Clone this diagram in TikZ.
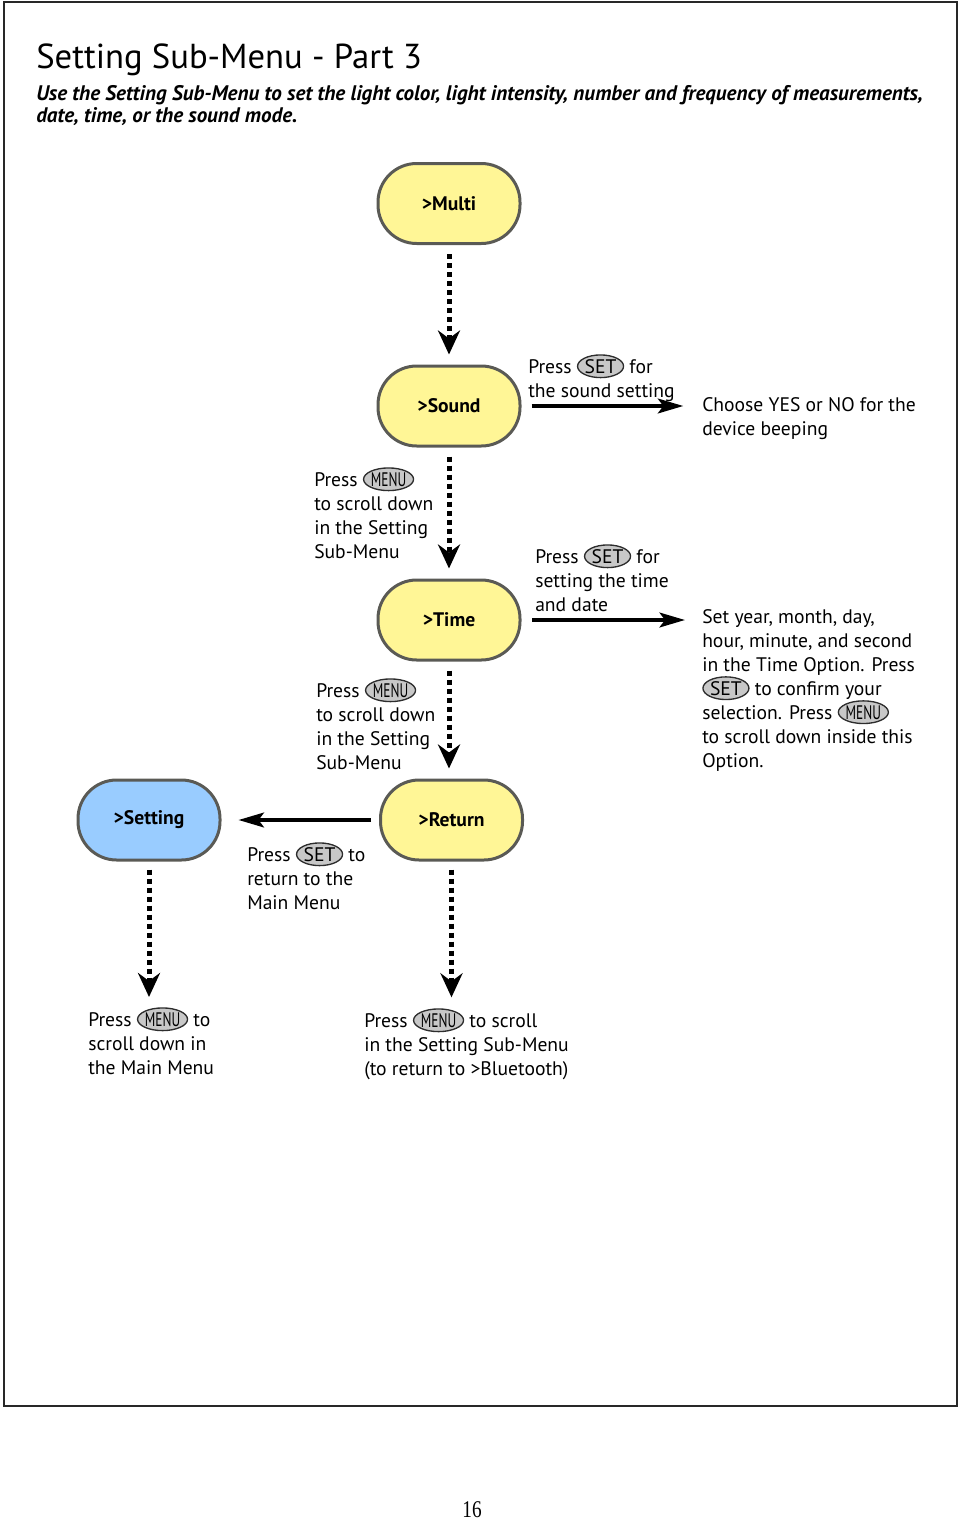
\documentclass[tikz,border=0pt]{standalone}
\usepackage{graphicx}
\usepackage{fontspec}
\setmainfont{PT Sans}
\newfontfamily\numfont{Liberation Serif}
\usetikzlibrary{arrows.meta,shapes.geometric}
\definecolor{boxyellow}{RGB}{255,246,150}
\definecolor{boxblue}{RGB}{153,204,255}
\definecolor{boxedge}{RGB}{90,90,85}
\definecolor{btnfill}{RGB}{200,200,200}
\definecolor{btnedge}{RGB}{45,45,45}
\definecolor{framecol}{RGB}{40,40,40}
\newcommand{\bodyfont}{\fontsize{14.7}{18}\selectfont}
\newcommand{\btnset}{\tikz[baseline=(bt.base)]\node[btnshape](bt){SET};}
\newcommand{\btnmenu}{\tikz[baseline=(bt.base)]\node[btnshape](bt){\scalebox{0.68}[1]{MENU}};}
\tikzset{
  menubox/.style={draw=boxedge, line width=2.25pt, rounded corners=29pt,
    minimum width=106.5pt, minimum height=60pt, font=\bodyfont\bfseries, inner sep=0pt},
  yellowbox/.style={menubox, fill=boxyellow},
  bluebox/.style={menubox, fill=boxblue},
  btnshape/.style={ellipse, draw=btnedge, fill=btnfill, line width=1pt,
    minimum width=34.5pt, minimum height=17pt, inner sep=0pt, outer sep=0pt,
    anchor=center, font=\bodyfont, text=black},
  note/.style={anchor=north west, inner sep=0pt, align=left, font=\bodyfont},
  solidarrow/.style={line width=3pt, -{Stealth[length=19pt, width=11pt, inset=4pt]}},
  dotarrow/.style={line width=3.75pt, dash pattern=on 3.75pt off 3pt,
    -{Stealth[length=18pt, width=16.5pt, inset=6pt]}}
}
\begin{document}
\begin{tikzpicture}[x=0.75pt,y=-0.75pt]
\useasboundingbox (0,0) rectangle (960,1524);
\draw[line width=1.5pt, framecol] (4,2) rectangle (957,1406);

% title
\node[anchor=base west, inner sep=0pt, font=\fontsize{26}{30}\selectfont] (title) at (36,68) {Setting Sub-Menu - Part 3};
\node[anchor=north west, inner sep=0pt, align=left, font=\fontsize{15.8}{16.5}\selectfont\bfseries\itshape] (subtitle) at (36,85)
  {\strut Use the Setting Sub-Menu to set the light color, light intensity, number and frequency of measurements,\\date, time, or the sound mode.};

% menu boxes
\node[yellowbox] (multi) at (449,203.5) {>Multi};
\node[yellowbox] (sound) at (449,406) {>Sound};
\node[yellowbox] (time) at (449,620) {>Time};
\node[yellowbox] (ret) at (451.5,820) {>Return};
\node[bluebox] (setting) at (149,820) {>Setting};

% notes
\node[note] (sndtxt) at (528,354) {\strut Press \btnset{} for\\the sound setting};
\node[note] (choose) at (702,394) {\strut Choose YES or NO for the\\device beeping};
\node[note] (menu1) at (314,467) {\strut Press \btnmenu\\to scroll down\\in the Setting\\Sub-Menu};
\node[note] (timetxt) at (535,544) {\strut Press \btnset{} for\\setting the time\\and date};
\node[note] (setyear) at (702,606) {\strut Set year, month, day,\\hour, minute, and second\\in the Time Option. Press\\\btnset{} to confirm your\\selection. Press \btnmenu\\to scroll down inside this\\Option.};
\node[note] (menu2) at (316,678) {\strut Press \btnmenu\\to scroll down\\in the Setting\\Sub-Menu};
\node[note] (rettxt) at (247,842) {\strut Press \btnset{} to\\return to the\\Main Menu};
\node[note] (mainmenu) at (88,1007) {\strut Press \btnmenu{} to\\scroll down in\\the Main Menu};
\node[note] (bluetooth) at (364,1008) {\strut Press \btnmenu{} to scroll\\in the Setting Sub-Menu\\(to return to >Bluetooth)};

% dotted connectors
\draw[dotarrow, shorten <=6.75pt, shorten >=7.5pt] (multi) -- (sound);
\draw[dotarrow, shorten <=6.75pt, shorten >=7.5pt] (sound) -- (time);
\draw[dotarrow, shorten <=6.75pt, shorten >=7.5pt] (time.south) -- (time.south |- ret.north);
\draw[dotarrow, shorten <=6pt, shorten >=7.5pt] (setting.south) -- (setting.south |- mainmenu.north);
\draw[dotarrow, shorten <=6pt, shorten >=8pt] (ret.south) -- (ret.south |- bluetooth.north);

% solid connectors
\draw[solidarrow, shorten <=7.5pt, shorten >=14pt] (sound.east) -- (choose.west |- sound.east);
\draw[solidarrow, shorten <=8pt, shorten >=12.75pt] (time.east) -- (setyear.west |- time.east);
\draw[solidarrow, shorten <=6pt, shorten >=12.75pt] (ret.west) -- (setting.east);

% page number
\node[font=\numfont\fontsize{18}{20}\selectfont, inner sep=0pt] (pagenum) at (472,1510) {\scalebox{0.8}[1]{16}};
\end{tikzpicture}
\end{document}
